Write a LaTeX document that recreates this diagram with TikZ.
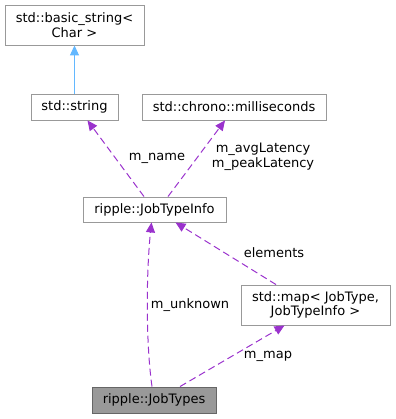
\documentclass[tikz,border=0pt]{standalone}
\usepackage{fontspec}
\setmainfont{DejaVu Sans}
\usetikzlibrary{arrows.meta}
\definecolor{edgepurple}{HTML}{9A32CD}
\definecolor{edgeblue}{HTML}{63B8FF}
\definecolor{boxline}{HTML}{999999}
\definecolor{curline}{HTML}{666666}
\definecolor{curfill}{HTML}{999999}
\tikzset{
  cls/.style={draw=boxline, line width=0.9pt, fill=white, inner sep=0pt, align=center,
    font=\fontsize{13}{14.5}\selectfont},
  current/.style={cls, draw=curline, fill=curfill},
  usage/.style={draw=edgepurple, line width=1pt, dash pattern=on 7pt off 4pt,
    -{Triangle[length=10pt,width=9pt]}},
  inherit/.style={draw=edgeblue, line width=1pt, -{Triangle[length=10pt,width=9pt]}},
  lbl/.style={font=\fontsize{13}{14.5}\selectfont, align=center, inner sep=0pt}
}
\begin{document}
\begin{tikzpicture}[x=1pt,y=-1pt]
\useasboundingbox (0,0) rectangle (395,419);
% classes
\node[cls, minimum width=139pt, minimum height=40pt] (bstr) at (74.5,25) {std::basic\_string\textless\\Char \textgreater};
\node[cls, minimum width=87pt, minimum height=26pt] (str) at (74.5,107) {std::string};
\node[cls, minimum width=184pt, minimum height=26pt] (ms) at (234,107) {std::chrono::milliseconds};
\node[cls, minimum width=143pt, minimum height=25pt] (jti) at (154.5,209.5) {ripple::JobTypeInfo};
\node[cls, minimum width=149pt, minimum height=40pt] (map) at (315.5,305) {std::map\textless{} JobType,\\JobTypeInfo \textgreater};
\node[current, minimum width=124pt, minimum height=26pt] (jt) at (154,400) {ripple::JobTypes};
% inheritance
\draw[inherit] (str.north) -- (bstr.south);
% members
\draw[usage] ([xshift=-10.5pt]jti.north) -- ([xshift=13pt]str.south);
\draw[usage] ([xshift=13.5pt]jti.north) -- ([xshift=-9pt]ms.south);
\draw[usage] ([xshift=-39.5pt]map.north) -- ([xshift=21pt]jti.south);
\draw[usage] ([xshift=-2pt]jt.north) .. controls (146,345) and (146,275) .. ([xshift=-3pt]jti.south);
\draw[usage] ([xshift=26pt]jt.north) -- ([xshift=-31pt]map.south);
% member names
\node[lbl] (lname) at (157,158) {m\_name};
\node[lbl] (llat) at (263,157) {m\_avgLatency\\m\_peakLatency};
\node[lbl] (lel) at (274,253) {elements};
\node[lbl] (lunk) at (190,305) {m\_unknown};
\node[lbl] (lmap) at (268,356) {m\_map};
\end{tikzpicture}
\end{document}
